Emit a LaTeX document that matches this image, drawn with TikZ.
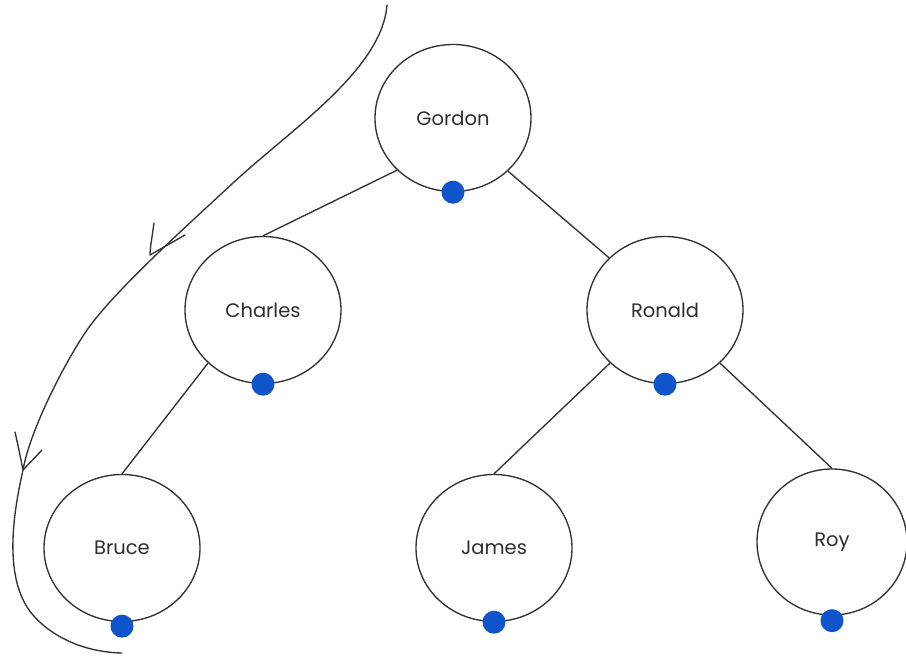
\documentclass[tikz,border=0pt]{standalone}
\usepackage{fontspec}
\setmainfont{Poppins}
\usetikzlibrary{shapes.geometric}
\definecolor{ink}{RGB}{50,50,50}
\definecolor{txt}{RGB}{45,45,45}
\definecolor{dotblue}{RGB}{16,84,204}
\tikzset{
  person/.style={ellipse, draw=ink, line width=1.35pt, minimum width=156pt, minimum height=147pt, inner sep=0pt, text=txt, font=\fontsize{19.5}{22}\selectfont},
  link/.style={draw=ink, line width=1.35pt},
  bead/.style={circle, fill=dotblue, minimum size=23pt, inner sep=0pt},
  sweep/.style={draw=ink, line width=1.35pt, line cap=round, line join=round}
}
\begin{document}
\begin{tikzpicture}[x=1pt, y=-1pt]
\useasboundingbox (0,0) rectangle (906,659);
\node[person] (gordon) at (453,118) {Gordon};
\node[person] (charles) at (263,310) {Charles};
\node[person] (ronald) at (665,310) {Ronald};
\node[person] (bruce) at (122,548) {Bruce};
\node[person] (james) at (494,548) {James};
\node[person, minimum width=150pt, minimum height=146pt] (roy) at (832,542) {Roy};

\draw[link] (gordon.223) -- (charles.north);
\draw[link] (gordon.316) -- (ronald.137);
\draw[link] (charles.224) -- (bruce.north);
\draw[link] (ronald.224) -- (james.north);
\draw[link] (ronald.316) -- (roy.north);

\node[bead] (bg) at (gordon.south) {};
\node[bead] (bc) at (charles.south) {};
\node[bead] (br) at (ronald.south) {};
\node[bead] (bb) at ([yshift=-4pt]bruce.south) {};
\node[bead] (bj) at (james.south) {};
\node[bead] (by) at ([yshift=-5pt]roy.south) {};

% traversal sweep
\coordinate (start) at (387,5);
\coordinate (tipA) at (150,255);
\coordinate (tipB) at (23,470);
\coordinate (finish) at (122,653);
\draw[sweep] (start) .. controls (382,70) and (290,130) .. (233,183)
  .. controls (190,223) and (115,290) .. (87,330)
  .. controls (65,362) and (30,430) .. (tipB)
  .. controls (14,510) and (4,570) .. (27,607)
  .. controls (41,629) and (75,652) .. (finish);
\draw[sweep] (154,223) .. controls (152,238) and (150,248) .. (tipA) -- (185,235);
\draw[sweep] (15,432) .. controls (18,445) and (21,460) .. (tipB) -- (42,450);
\end{tikzpicture}
\end{document}
